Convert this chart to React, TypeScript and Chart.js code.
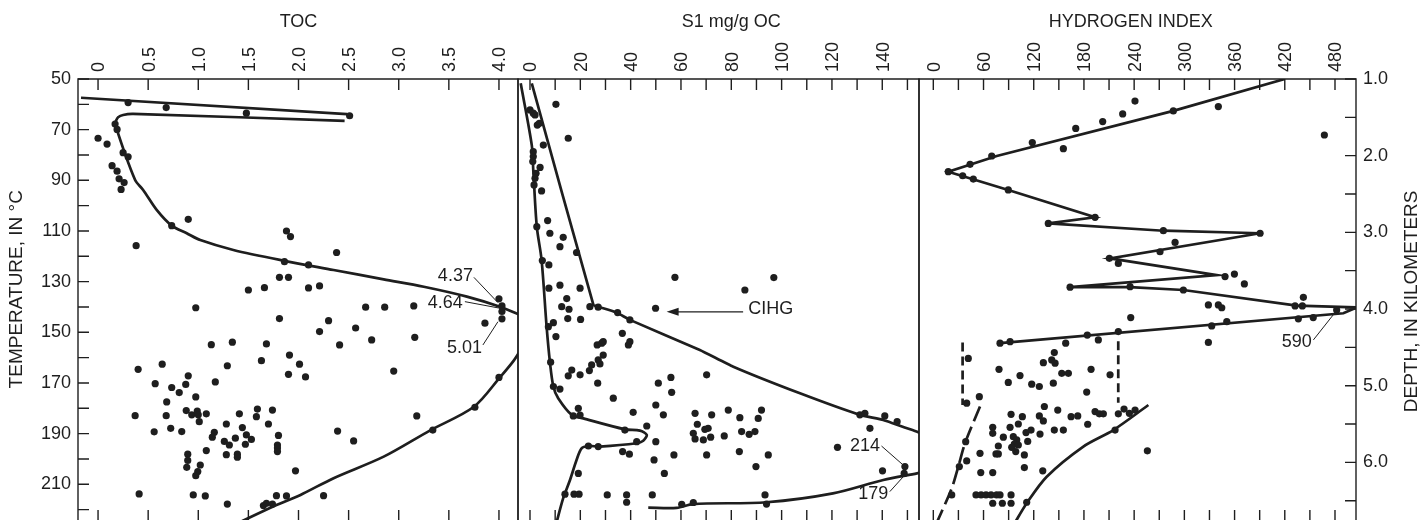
import React, { useEffect, useRef } from 'react';
import { Chart, registerables } from 'chart.js';

Chart.register(...registerables);

const FONT = '"Liberation Sans", Arial, Helvetica, sans-serif';
const INK = '#1e1e1e';

// ---------------- axes ----------------
const tempRange: [number, number] = [50, 224.5];
const depthRange: [number, number] = [1.0, 6.765];
const tocRange: [number, number] = [-0.2, 4.19];
const s1Range: [number, number] = [-4.77, 154.6];
const hiRange: [number, number] = [-17.1, 505.1];

const tempTicks = [50, 60, 70, 80, 90, 100, 110, 120, 130, 140, 150, 160, 170, 180, 190, 200, 210, 220];
const tempTickLabels = ['50', '70', '90', '110', '130', '150', '170', '190', '210'];
const depthTicks = [1.0, 1.5, 2.0, 2.5, 3.0, 3.5, 4.0, 4.5, 5.0, 5.5, 6.0, 6.5];
const depthTickLabels = ['1.0', '2.0', '3.0', '4.0', '5.0', '6.0'];
const tocTicks = [0, 0.5, 1.0, 1.5, 2.0, 2.5, 3.0, 3.5, 4.0];
const tocTickLabels = ['0', '0.5', '1.0', '1.5', '2.0', '2.5', '3.0', '3.5', '4.0'];
const s1Ticks = [0, 10, 20, 30, 40, 50, 60, 70, 80, 90, 100, 110, 120, 130, 140, 150];
const s1TickLabels = ['0', '20', '40', '60', '80', '100', '120', '140'];
const hiTicks = [0, 30, 60, 90, 120, 150, 180, 210, 240, 270, 300, 330, 360, 390, 420, 450, 480];
const hiTickLabels = ['0', '60', '120', '180', '240', '300', '360', '420', '480'];

// ---------------- TOC panel (x = TOC, y = temperature) ----------------
const tocDots: [number, number][] = [
  [0.30, 59.3], [0.68, 61.3], [1.48, 63.5], [2.51, 64.5],
  [0.17, 67.8], [0.19, 69.9], [0.0, 73.4], [0.09, 75.7], [0.25, 79.1], [0.30, 80.7],
  [0.14, 84.2], [0.19, 86.4], [0.21, 89.4], [0.26, 90.9], [0.23, 93.6],
  [0.735, 107.9], [0.90, 105.4], [0.38, 115.8], [1.88, 110], [1.92, 112.2], [2.38, 118.5],
  [1.86, 122.1], [2.10, 123.4], [1.81, 128.3], [1.90, 128.3], [1.50, 133.3], [1.66, 132.4],
  [2.10, 132.5], [2.21, 131.7], [0.975, 140.3], [2.67, 140.1], [2.86, 140.1], [3.15, 139.6],
  [1.81, 144.6], [2.30, 145.4], [2.21, 149.7], [2.57, 148.3], [3.16, 152], [2.73, 153],
  [1.13, 154.9], [1.34, 153.9], [1.68, 154.6], [2.41, 155],
  [3.86, 146.4], [4.0, 136.8], [4.03, 139.6], [4.03, 141.8], [4.03, 144.7],
  [1.91, 159], [1.63, 161.2], [2.01, 162.6], [0.40, 164.6], [0.64, 162.6], [1.29, 163.2],
  [1.90, 166.6], [2.07, 167.6], [2.95, 165.3], [0.57, 170.3], [0.90, 167.2], [0.875, 170.6],
  [1.17, 169.6], [0.735, 171.8], [0.81, 173.8], [0.975, 175.5], [0.685, 177.5],
  [0.37, 182.9], [0.68, 182.9], [0.88, 180.9], [0.935, 182.6], [0.99, 181.1], [1.0, 182.6],
  [1.01, 185.3], [1.08, 182.2], [1.41, 182.2], [1.59, 180.3], [1.58, 183.3], [1.74, 180.7],
  [1.70, 186.2], [1.28, 186.2], [1.44, 187.6], [0.56, 189.3], [0.725, 187.9], [0.835, 189.2],
  [1.16, 189.5], [1.14, 191.4], [1.48, 190.5], [1.53, 192.3], [1.37, 191.8], [1.26, 193.1],
  [1.31, 194.5], [1.47, 194.2], [1.80, 190.7], [1.79, 194.5], [1.79, 195.7], [1.79, 197.1],
  [2.39, 189], [2.55, 192.9], [3.18, 183], [1.08, 196.7], [1.28, 198.3], [1.39, 198.1],
  [1.39, 199.3], [0.895, 198.1], [0.895, 200.6], [0.885, 203.3], [1.02, 202.4], [0.995, 205],
  [0.975, 206.6], [1.97, 204.7], [0.41, 213.8], [0.95, 214.2], [1.07, 214.6], [1.29, 217.8],
  [1.65, 218.4], [1.68, 217.5], [1.74, 217.8], [1.78, 214.5], [1.88, 214.6], [2.25, 214.5],
  [3.34, 188.6], [3.76, 179.6], [4.0, 167.8],
];
const tocWedgeLine: [number, number][] = [[-0.17, 57.4], [2.485, 63.9]];
const tocUpperCurve: [number, number][] = [
  [2.46, 66.5], [0.35, 63.8], [0.25, 64.2], [0.20, 65.1], [0.18, 66.4], [0.17, 67.8],
  [0.37, 89.9], [0.45, 93.8], [0.585, 101.7], [0.735, 107.9], [0.885, 110.9], [1.02, 113.6],
  [1.35, 117.5], [1.85, 121.7], [2.35, 125.4], [2.85, 129.1], [3.25, 132], [3.68, 135.9],
  [4.01, 139.9], [4.2, 143],
];
const tocLowerCurve: [number, number][] = [
  [1.36, 226], [1.78, 218.2], [2.02, 214.2], [2.35, 207.6], [2.85, 199.1], [3.31, 188.8],
  [3.75, 179.4], [4.01, 167.8], [4.14, 161.6], [4.2, 158],
];
const tocNotes = [
  { text: '4.37', x: 3.74, y: 127.8, align: 'right' },
  { text: '4.64', x: 3.64, y: 138.5, align: 'right' },
  { text: '5.01', x: 3.83, y: 156.3, align: 'right' },
];
const tocLeaders: [number, number, number, number][] = [
  [3.75, 128.3, 3.99, 138.3], [3.66, 137.9, 4.01, 140.5], [3.84, 155.0, 3.99, 145.8],
];

// ---------------- S1 panel ----------------
const s1Dots: [number, number][] = [
  [10.3, 60], [0, 62.2], [1.3, 63.5], [2.0, 64.2], [2.9, 68.2], [3.7, 67.5], [15.2, 73.4],
  [5.3, 76.1], [1.3, 78.7], [1.3, 80.6], [1.1, 82.6], [4.0, 84.9], [2.4, 87.2], [2.0, 89.2],
  [1.6, 91.8], [4.6, 94.2], [2.7, 108.3], [7.0, 105.9], [7.9, 110.9], [13.2, 112.5],
  [11.9, 116.2], [18.5, 118.5], [4.9, 121.7], [7.5, 123.4], [7.5, 132.6], [11.9, 131.4],
  [19.9, 132.6], [14.6, 136.7], [12.6, 139.9], [15.5, 140.9], [23.8, 139.9], [27.1, 140.1],
  [34.8, 142.2], [39.7, 145.1], [49.9, 140.5], [57.6, 128.3], [96.9, 128.4], [85.4, 133.3],
  [15.0, 144.6], [20.1, 144.9], [7.3, 147.8], [9.3, 146.2], [10.3, 151.7], [36.7, 150.4],
  [26.7, 155], [28.5, 154.3], [29.1, 153.7], [39.7, 153.7], [39.1, 155],
  [29.1, 159], [27.1, 160.9], [27.8, 162.5], [24.5, 162.9], [23.6, 165.1], [8.2, 161.8],
  [16.6, 164.9], [15.2, 167.2], [19.9, 166.8], [26.9, 170.1], [9.3, 171.4], [11.9, 172.4],
  [51, 170.1], [56, 167.8], [56.3, 173.7], [70.2, 166.8], [33.1, 176], [19.2, 180],
  [17.2, 183], [19.9, 182.7], [41, 181.6], [50, 178.7], [53, 182.6], [65.6, 182],
  [72.2, 182.6], [78.8, 180.7], [83.4, 183.7], [92, 180.7], [90.7, 184], [66.5, 186.3],
  [69.5, 188.3], [70.8, 187.9], [64.9, 189.9], [65.6, 192.1], [68.9, 192.5], [71.8, 191.4],
  [77.2, 190.9], [84.1, 189.2], [87.1, 190.3], [89.4, 189.2], [37.7, 188.6], [46.4, 187],
  [50, 193.2], [42.4, 193.2], [23.2, 194.9], [27.1, 195.1], [36.8, 197.1], [39.5, 198.1],
  [49.3, 200.4], [57.2, 198.4], [70.2, 198.4], [83.2, 197.1], [94.7, 198.4], [122.2, 195.4],
  [135.1, 187.9], [131.1, 182.6], [133.1, 182], [141, 183], [145.9, 185.3], [140.1, 204.7],
  [149, 203], [148.7, 205.7], [19.2, 205.7], [53.4, 205.7], [89.8, 203], [13.9, 213.9],
  [17.5, 213.9], [19.5, 213.9], [30.7, 214.2], [38.4, 214.2], [38.4, 217.1], [48.6, 214.2],
  [60.3, 217.9], [64.9, 217.2], [93.4, 214.2], [94, 217.8],
];
const s1LeftCurve: [number, number][] = [
  [-3.7, 51.7], [0.7, 76.1], [1.3, 85.9], [2.7, 108.3], [4.6, 121.4], [6.6, 147.8],
  [7.9, 161.6], [9.3, 171.5], [11.2, 176], [16.6, 182.6], [21.2, 184], [37.7, 188.3],
  [43.7, 188.8], [46.4, 190.5], [45, 192.8], [42.4, 193.8], [27.8, 195.1], [23.2, 194.9],
  [20.5, 195.8], [18.5, 200.4], [15.9, 208.3], [13.2, 215.5], [10.3, 226],
];
const s1RightCurve: [number, number][] = [
  [0.7, 51.7], [25.2, 139.2], [27.1, 139.9], [34.4, 142.2], [39.7, 145.1], [67.5, 157],
  [80.8, 163.6], [107.3, 174.1], [131.1, 182.6], [140.4, 184.6], [153.6, 189.2], [157, 190.4],
];
const s1BottomCurve: [number, number][] = [
  [47, 219.2], [58.3, 219.3], [64.8, 217.8], [94, 217.1], [120.4, 213.6], [140.4, 208.3],
  [153.8, 205.7], [157, 205],
];
const s1Notes = [
  { text: 'CIHG', x: 86.75, y: 140.9, align: 'left' },
  { text: '214', x: 139.1, y: 195.1, align: 'right' },
  { text: '179', x: 142.4, y: 213.8, align: 'right' },
];
const s1Leaders: [number, number, number, number][] = [
  [139.7, 194.9, 149, 203], [143, 212.9, 149, 206.3],
];
const s1Arrows: [number, number, number, number][] = [[84.7, 141.9, 54.3, 141.9]];

// ---------------- Hydrogen index panel ----------------
const hiDots: [number, number][] = [
  [241, 58.7], [340.6, 60.9], [286.8, 62.6], [226.3, 63.8], [202.4, 66.8], [170.2, 69.5],
  [467.3, 72.1], [118.3, 75.1], [155.4, 77.5], [69.8, 80.4], [43.9, 83.7], [17.9, 86.6],
  [35.1, 88.2], [47.8, 89.5], [89.6, 93.8], [193.3, 104.6], [137.4, 107], [390.5, 110.9],
  [274.9, 109.9], [288.9, 114.5], [270.9, 118.2], [210.4, 120.8], [221.1, 122.8], [348.6, 128],
  [359.8, 127], [371.7, 130.9], [163.4, 132.2], [235.1, 132], [298.8, 133.3], [442.2, 136.2],
  [432.3, 139.6], [441, 139.6], [328.7, 139.2], [340.6, 139.2], [344.7, 140.3], [482, 141.2],
  [454, 144.2], [436.2, 144.7], [350.7, 145.8], [332.7, 147.5], [235.9, 144.2], [221.1, 149.7],
  [184, 151.1], [197.2, 153], [158.2, 154.3], [91.7, 153.7], [79.7, 154.3], [328.7, 154],
  [41.8, 160.3], [144.6, 158], [131.5, 162], [141.5, 160.9], [145.5, 162.2], [78.5, 164.6],
  [188.5, 164.6], [153.5, 166.2], [161.4, 166.2], [211.2, 166.8], [103.6, 167.1], [89.6, 169.8],
  [117.6, 170.5], [126.7, 171.4], [143.4, 170.1], [183.3, 173.6], [55, 175.4], [39.9, 178],
  [132.7, 179.3], [148.7, 180.7], [92.9, 182.4], [106.4, 183.3], [126.7, 183], [131.5, 185],
  [164.6, 183.3], [172.6, 183], [193.3, 181.3], [198.4, 182.2], [203.2, 182.2], [221.1, 182.2],
  [227.9, 180.3], [234.3, 182], [241.1, 180.7], [71, 187.5], [71, 189.9], [83.7, 191.4],
  [91.7, 187.5], [101.6, 186.2], [110.8, 189.6], [116.8, 188.6], [127.5, 190.2], [144.6, 188.6],
  [155.4, 188.6], [184.5, 186.3], [217.2, 188.6], [95.6, 191.2], [99.7, 192.5], [96.8, 194.1],
  [101.6, 194.5], [93.7, 195.4], [98.5, 197.1], [112.8, 193.1], [77.7, 194.9], [55.8, 197.8],
  [74.9, 198], [77.7, 198], [108.8, 198.4], [39.9, 200.8], [31.1, 203], [56.7, 205.4],
  [71, 205.4], [108.8, 203.4], [130.8, 204.7], [255.8, 196.8], [38.7, 193.2], [22, 214.2],
  [51, 214.2], [57.1, 214.2], [63, 214.2], [69, 214.2], [75.7, 214.2], [79.7, 214.2],
  [92.9, 214.2], [71, 217.5], [82.5, 217.5], [92.9, 217.5], [111.6, 217.1],
];
const hiZigzag: [number, number][] = [
  [420, 50], [286.8, 62.6], [75.8, 80.4], [17.9, 86.6], [89.6, 93.8], [193.3, 104.6],
  [137.4, 107], [274.9, 109.9], [390.5, 110.9], [211.2, 120.8], [338.7, 127.4], [163.4, 132.2],
  [235.1, 132.2], [298.8, 133.3], [434.3, 139.5], [506, 140.2], [490, 142.5], [79.7, 154.3],
];
const hiBoxLeft: [number, number][] = [[35, 154], [35, 178.7]];
const hiBoxRight: [number, number][] = [[221, 153.5], [221, 177.8]];
const hiLowerLeft: [number, number][] = [
  [55.8, 179.3], [37.9, 193.8], [29.9, 203], [22, 211.6], [3.0, 226],
];
const hiLowerRight: [number, number][] = [
  [257, 178.7], [215.1, 188.6], [179.3, 195.1], [135.5, 207], [111.6, 217.5], [96, 226],
];
const hiNotes = [{ text: '590', x: 452.3, y: 153.7, align: 'right' }];
const hiLeaders: [number, number, number, number][] = [[454.2, 153.0, 482, 141.4]];

// ---------------- helpers ----------------
const matchLabel = (labels: string[], v: number) =>
  labels.find((l) => Math.abs(parseFloat(l) - v) < 1e-6) ?? '';

const TICK = 11;

function makeDecor(d: any) {
  return {
    id: 'decor',
    afterDraw(chart: any) {
      const { ctx, chartArea: a, scales } = chart;
      const xs = scales.x;
      const ys = scales.y;
      ctx.save();
      ctx.strokeStyle = INK;
      ctx.lineWidth = 1.4;
      ctx.beginPath();
      ctx.moveTo(a.left, a.bottom + 2);
      ctx.lineTo(a.left, a.top);
      ctx.lineTo(a.right, a.top);
      ctx.lineTo(a.right, a.bottom + 2);
      ctx.stroke();

      ctx.beginPath();
      xs.ticks.forEach((t: any) => {
        const p = xs.getPixelForValue(t.value);
        ctx.moveTo(p, a.top);
        ctx.lineTo(p, a.top + TICK);
        ctx.moveTo(p, a.bottom);
        ctx.lineTo(p, a.bottom - TICK);
      });
      if (d.yTicks) {
        const s = scales[d.yTicks.id];
        const left = d.yTicks.side === 'left';
        s.ticks.forEach((t: any) => {
          const p = s.getPixelForValue(t.value);
          const x0 = left ? a.left : a.right;
          ctx.moveTo(x0, p);
          ctx.lineTo(x0 + (left ? TICK : -TICK), p);
        });
      }
      ctx.stroke();

      // rotated top tick labels
      ctx.fillStyle = INK;
      ctx.font = `18px ${FONT}`;
      ctx.textAlign = 'left';
      ctx.textBaseline = 'alphabetic';
      xs.ticks.forEach((t: any) => {
        const lbl = matchLabel(d.xLabels, t.value);
        if (!lbl) return;
        const p = xs.getPixelForValue(t.value);
        ctx.save();
        ctx.translate(p + 6.4, a.top - 7);
        ctx.rotate(-Math.PI / 2);
        ctx.fillText(lbl, 0, 0);
        ctx.restore();
      });

      // panel title
      ctx.textAlign = 'center';
      ctx.fillText(d.title, xs.getPixelForValue(d.titleAt), 27);

      // side title
      if (d.side) {
        const s = scales[d.side.scaleId];
        const y = s.getPixelForValue(d.side.at);
        const x = d.side.pos === 'left' ? a.left - 61 : a.right + 56;
        ctx.save();
        ctx.font = `19px ${FONT}`;
        ctx.translate(x, y);
        ctx.rotate(-Math.PI / 2);
        ctx.textAlign = 'center';
        ctx.textBaseline = 'middle';
        ctx.fillText(d.side.text, 0, 0);
        ctx.restore();
      }

      // notes
      ctx.font = `18px ${FONT}`;
      ctx.textBaseline = 'middle';
      (d.notes || []).forEach((n: any) => {
        ctx.textAlign = n.align;
        ctx.fillText(n.text, xs.getPixelForValue(n.x), ys.getPixelForValue(n.y));
      });
      ctx.lineWidth = 1;
      ctx.beginPath();
      (d.leaders || []).forEach((l: number[]) => {
        ctx.moveTo(xs.getPixelForValue(l[0]), ys.getPixelForValue(l[1]));
        ctx.lineTo(xs.getPixelForValue(l[2]), ys.getPixelForValue(l[3]));
      });
      ctx.stroke();
      (d.arrows || []).forEach((l: number[]) => {
        const x1 = xs.getPixelForValue(l[0]);
        const y1 = ys.getPixelForValue(l[1]);
        const x2 = xs.getPixelForValue(l[2]);
        const y2 = ys.getPixelForValue(l[3]);
        const ang = Math.atan2(y2 - y1, x2 - x1);
        ctx.lineWidth = 1.3;
        ctx.beginPath();
        ctx.moveTo(x1, y1);
        ctx.lineTo(x2 - 8 * Math.cos(ang), y2 - 8 * Math.sin(ang));
        ctx.stroke();
        ctx.beginPath();
        ctx.moveTo(x2, y2);
        ctx.lineTo(x2 - 12 * Math.cos(ang) + 4 * Math.sin(ang), y2 - 12 * Math.sin(ang) - 4 * Math.cos(ang));
        ctx.lineTo(x2 - 12 * Math.cos(ang) - 4 * Math.sin(ang), y2 - 12 * Math.sin(ang) + 4 * Math.cos(ang));
        ctx.closePath();
        ctx.fill();
      });
      ctx.restore();
    },
  };
}

const toXY = (arr: [number, number][]) => arr.map(([x, y]) => ({ x, y }));

const dotSet = (arr: [number, number][]) => ({
  data: toXY(arr),
  showLine: false,
  pointRadius: 3.6,
  pointHoverRadius: 3.6,
  pointBackgroundColor: INK,
  pointBorderColor: INK,
  pointBorderWidth: 0,
  order: 0,
});

const lineSet = (arr: [number, number][], tension: number, dash: number[] = []) => ({
  data: toXY(arr),
  showLine: true,
  pointRadius: 0,
  pointHoverRadius: 0,
  borderColor: INK,
  borderWidth: 2.7,
  borderDash: dash,
  tension,
  fill: false,
  order: 1,
});

function xScale(range: [number, number], ticks: number[]) {
  return {
    type: 'linear',
    position: 'top',
    min: range[0],
    max: range[1],
    bounds: 'data',
    afterBuildTicks: (s: any) => {
      s.ticks = ticks.map((value) => ({ value }));
    },
    afterFit: (s: any) => {
      s.height = 79;
      s.paddingLeft = 0;
      s.paddingRight = 0;
    },
    ticks: { display: false, autoSkip: false },
    grid: { display: false, drawTicks: false },
    border: { display: false },
  };
}

function tempScale(show: boolean) {
  return {
    type: 'linear',
    position: 'left',
    display: show,
    reverse: true,
    min: tempRange[0],
    max: tempRange[1],
    bounds: 'data',
    afterBuildTicks: (s: any) => {
      s.ticks = tempTicks.map((value) => ({ value }));
    },
    afterFit: (s: any) => {
      if (show) s.width = 78;
      s.paddingTop = 0;
      s.paddingBottom = 0;
    },
    ticks: {
      autoSkip: false,
      padding: 7,
      color: INK,
      font: { size: 18, family: FONT },
      callback: (v: any) => matchLabel(tempTickLabels, Number(v)),
    },
    grid: { display: false, drawTicks: false },
    border: { display: false },
  };
}

const baseOptions = (padding: any, scales: any) => ({
  responsive: false,
  animation: false,
  events: [],
  layout: { padding, autoPadding: false },
  plugins: { legend: { display: false }, tooltip: { enabled: false }, title: { display: false } },
  scales,
});

export default function App() {
  const aRef = useRef<HTMLCanvasElement>(null);
  const bRef = useRef<HTMLCanvasElement>(null);
  const cRef = useRef<HTMLCanvasElement>(null);

  useEffect(() => {
    Chart.defaults.font.family = FONT;
    Chart.defaults.color = INK;

    const chartA = new Chart(aRef.current as HTMLCanvasElement, {
      type: 'scatter',
      data: {
        datasets: [
          dotSet(tocDots),
          lineSet(tocWedgeLine, 0),
          lineSet(tocUpperCurve, 0.3),
          lineSet(tocLowerCurve, 0.3),
        ] as any,
      },
      options: baseOptions({ left: 0, right: 2, top: 0, bottom: 9 }, {
        x: xScale(tocRange, tocTicks),
        y: tempScale(true),
      }) as any,
      plugins: [
        makeDecor({
          title: 'TOC',
          titleAt: 2.0,
          xLabels: tocTickLabels,
          yTicks: { id: 'y', side: 'left' },
          side: { text: 'TEMPERATURE, IN \u00B0C', pos: 'left', scaleId: 'y', at: 133 },
          notes: tocNotes,
          leaders: tocLeaders,
        }),
      ],
    });

    const chartB = new Chart(bRef.current as HTMLCanvasElement, {
      type: 'scatter',
      data: {
        datasets: [
          dotSet(s1Dots),
          lineSet(s1LeftCurve, 0.3),
          lineSet(s1RightCurve, 0.15),
          lineSet(s1BottomCurve, 0.3),
        ] as any,
      },
      options: baseOptions({ left: 2, right: 2, top: 0, bottom: 9 }, {
        x: xScale(s1Range, s1Ticks),
        y: tempScale(false),
      }) as any,
      plugins: [
        makeDecor({
          title: 'S1 mg/g OC',
          titleAt: 80,
          xLabels: s1TickLabels,
          notes: s1Notes,
          leaders: s1Leaders,
          arrows: s1Arrows,
        }),
      ],
    });

    const chartC = new Chart(cRef.current as HTMLCanvasElement, {
      type: 'scatter',
      data: {
        datasets: [
          dotSet(hiDots),
          lineSet(hiZigzag, 0),
          lineSet(hiBoxLeft, 0, [9, 5]),
          lineSet(hiBoxRight, 0, [9, 5]),
          lineSet(hiLowerLeft, 0.3, [16, 6]),
          lineSet(hiLowerRight, 0.3),
        ] as any,
      },
      options: baseOptions({ left: 2, right: 0, top: 0, bottom: 9 }, {
        x: xScale(hiRange, hiTicks),
        y: tempScale(false),
        depth: {
          type: 'linear',
          position: 'right',
          reverse: true,
          min: depthRange[0],
          max: depthRange[1],
          bounds: 'data',
          afterBuildTicks: (s: any) => {
            s.ticks = depthTicks.map((value) => ({ value }));
          },
          afterFit: (s: any) => {
            s.width = 65;
            s.paddingTop = 0;
            s.paddingBottom = 0;
          },
          ticks: {
            autoSkip: false,
            padding: 7,
            color: INK,
            font: { size: 18, family: FONT },
            callback: (v: any) => matchLabel(depthTickLabels, Number(v)),
          },
          grid: { display: false, drawTicks: false },
          border: { display: false },
        },
      }) as any,
      plugins: [
        makeDecor({
          title: 'HYDROGEN INDEX',
          titleAt: 236,
          xLabels: hiTickLabels,
          yTicks: { id: 'depth', side: 'right' },
          side: { text: 'DEPTH, IN KILOMETERS', pos: 'right', scaleId: 'depth', at: 3.9 },
          notes: hiNotes,
          leaders: hiLeaders,
        }),
      ],
    });

    return () => {
      chartA.destroy();
      chartB.destroy();
      chartC.destroy();
    };
  }, []);

  return (
    <div
      style={{
        position: 'fixed',
        left: 0,
        top: 0,
        width: 1421,
        height: 520,
        overflow: 'hidden',
        background: '#ffffff',
      }}
    >
      <canvas ref={aRef} width={520} height={530} style={{ position: 'absolute', left: 0, top: 0 }} />
      <canvas ref={bRef} width={405} height={530} style={{ position: 'absolute', left: 516, top: 0 }} />
      <canvas ref={cRef} width={504} height={530} style={{ position: 'absolute', left: 917, top: 0 }} />
    </div>
  );
}
